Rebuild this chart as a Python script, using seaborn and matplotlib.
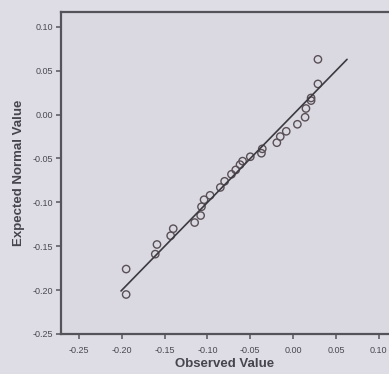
import matplotlib
matplotlib.use('Agg')
import matplotlib.pyplot as plt
import seaborn as sns
import pandas as pd

# observed value vs expected normal value (Q-Q plot)
observed = [-0.195, -0.195, -0.161, -0.159, -0.143, -0.140, -0.115, -0.108,
            -0.107, -0.104, -0.097, -0.085, -0.080, -0.072, -0.067, -0.062,
            -0.059, -0.050, -0.037, -0.036, -0.019, -0.015, -0.008, 0.005,
            0.014, 0.015, 0.021, 0.021, 0.029, 0.029]
expected = [-0.205, -0.176, -0.159, -0.148, -0.138, -0.130, -0.123, -0.115,
            -0.105, -0.097, -0.092, -0.083, -0.076, -0.068, -0.063, -0.057,
            -0.053, -0.048, -0.044, -0.039, -0.032, -0.025, -0.019, -0.011,
            -0.003, 0.007, 0.016, 0.019, 0.035, 0.063]
line_ends = [-0.201, 0.063]
ticks = [-0.25, -0.20, -0.15, -0.10, -0.05, 0.00, 0.05, 0.10]
tick_labels = ['-0.25', '-0.20', '-0.15', '-0.10', '-0.05', '0.00', '0.05', '0.10']

df = pd.DataFrame({'Observed Value': observed, 'Expected Normal Value': expected})

sns.set_style('white')
plt.rcParams['font.family'] = ['Liberation Sans', 'DejaVu Sans']

fig = plt.figure(figsize=(3.89, 3.74), dpi=100, facecolor='#dedde6')
ax = fig.add_axes([0.157, 0.107, 0.843, 0.861])
ax.set_facecolor('#dad9e1')

sns.lineplot(x=line_ends, y=line_ends, ax=ax, color='#3c3a40', linewidth=1.2)
sns.scatterplot(data=df, x='Observed Value', y='Expected Normal Value', ax=ax,
                marker='o', s=28, facecolor='none', edgecolor='#5a4f56',
                linewidth=1.0)

ax.set_xlim(-0.271, 0.112)
ax.set_ylim(-0.25, 0.117)
ax.set_xticks(ticks)
ax.set_xticklabels(tick_labels)
ax.set_yticks(ticks)
ax.set_yticklabels(tick_labels)

for side in ['left', 'top', 'bottom']:
    ax.spines[side].set_color('#55535a')
    ax.spines[side].set_linewidth(1.6)
ax.spines['right'].set_visible(False)

ax.tick_params(axis='both', direction='out', length=3.5, width=1.3,
               color='#6a6870', labelsize=6.5, labelcolor='#4a4850', pad=2)
ax.tick_params(axis='x', bottom=True, pad=5)
ax.tick_params(axis='y', left=True)

ax.set_xlabel('Observed Value', fontsize=9.5, fontweight='bold',
              color='#46444c', labelpad=2)
ax.set_ylabel('Expected Normal Value', fontsize=9.5, fontweight='bold',
              color='#46444c', labelpad=6)

fig.savefig('out.png', dpi=100, facecolor=fig.get_facecolor())
